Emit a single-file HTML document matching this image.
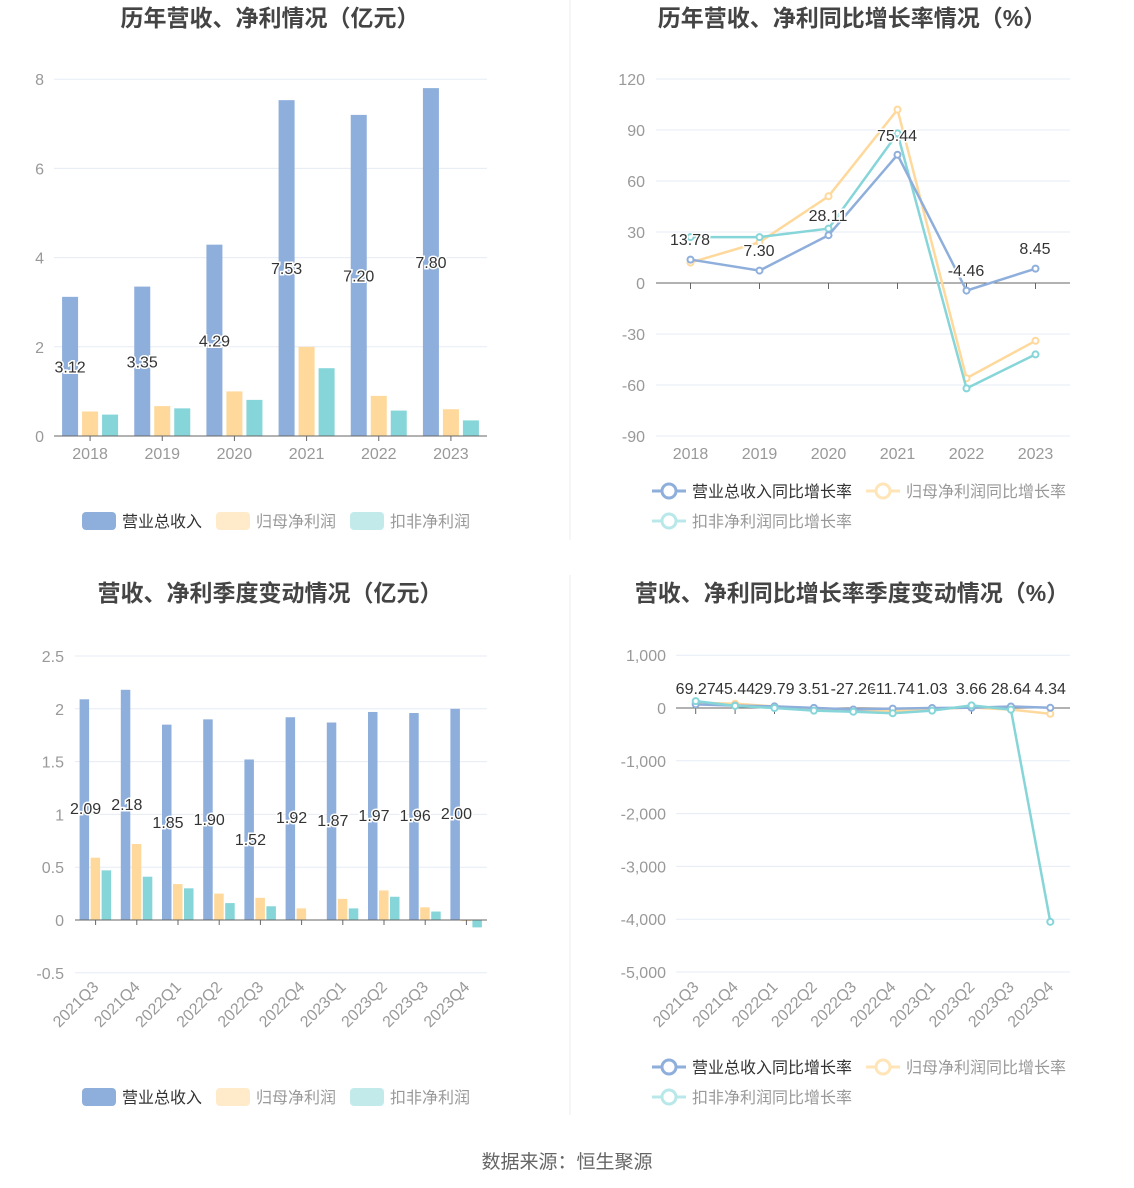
<!DOCTYPE html>
<html><head><meta charset="utf-8"><style>
html,body{margin:0;padding:0;background:#fff;}
svg{display:block;font-family:"Liberation Sans","Noto Sans CJK SC",sans-serif;}
</style></head><body>
<svg id="s" width="1134" height="1188" xmlns="http://www.w3.org/2000/svg"></svg>
<script>
const S=document.getElementById('s');let h='';
const B='#8eaedb',O='#ffd89b',T='#86d5d8';
function t(x,y,s,o){o=o||{};h+=`<text x="${x}" y="${y}" font-size="${o.fs||16}" fill="${o.c||'#999'}" text-anchor="${o.a||'middle'}" ${o.w?'font-weight="bold"':''} ${o.tr?`transform="${o.tr}"`:''} ${o.st?'stroke="#fff" stroke-width="3" paint-order="stroke"':''}>${s}</text>`;}
function l(x1,y1,x2,y2,c,w){h+=`<line x1="${x1}" y1="${y1}" x2="${x2}" y2="${y2}" stroke="${c}" stroke-width="${w||1}"/>`;}
function r(x,y,w,hh,c){if(hh<0){y+=hh;hh=-hh;}h+=`<rect x="${x}" y="${y}" width="${w}" height="${hh}" fill="${c}"/>`;}
t(270,26,'历年营收、净利情况（亿元）',{fs:23,c:'#444',w:1});
t(852,26,'历年营收、净利同比增长率情况（%）',{fs:23,c:'#444',w:1});
t(270,601,'营收、净利季度变动情况（亿元）',{fs:23,c:'#444',w:1});
t(852,601,'营收、净利同比增长率季度变动情况（%）',{fs:23,c:'#444',w:1});
l(570,0,570,540,'#eee');l(570,575,570,1115,'#eee');
t(567,1168,'数据来源：恒生聚源',{fs:19,c:'#666'});
{const x0=54,x1=487,z=436,k=44.6;
for(let v=0;v<=8;v+=2){const y=z-v*k;if(v)l(x0,y,x1,y,'#e6ebf5');t(44,y+6,v,{a:'end'});}
const yrs=['2018','2019','2020','2021','2022','2023'];
const b=[3.12,3.35,4.29,7.53,7.20,7.80],o=[0.55,0.67,1.0,2.0,0.9,0.6],q=[0.48,0.62,0.81,1.52,0.57,0.35];
const cw=(x1-x0)/6;
yrs.forEach((y,i)=>{const c=x0+cw*(i+.5);r(c-28,z-b[i]*k,16,b[i]*k,B);r(c-8,z-o[i]*k,16,o[i]*k,O);r(c+12,z-q[i]*k,16,q[i]*k,T);
l(c,z,c,z+5,'#666');t(c,z+23,y);});
l(x0,z,x1,z,'#666');
yrs.forEach((y,i)=>{const c=x0+cw*(i+.5);t(c-20,z-b[i]*k/2+6,b[i].toFixed(2),{c:'#333',st:1});});
}
function barLeg(y){h+=`<rect x="82" y="${y-9}" width="34" height="18" rx="4" fill="${B}"/><rect x="216" y="${y-9}" width="34" height="18" rx="4" fill="#ffebc9"/><rect x="350" y="${y-9}" width="34" height="18" rx="4" fill="#c3eaeb"/>`;
t(122,y+6,'营业总收入',{a:'start',c:'#333'});t(256,y+6,'归母净利润',{a:'start'});t(390,y+6,'扣非净利润',{a:'start'});}
barLeg(521);barLeg(1097);
function lineLeg(y1,y2){
[[652,y1,B,'营业总收入同比增长率','#333'],[866,y1,'#ffe5b8','归母净利润同比增长率','#999'],[652,y2,'#b8e8e9','扣非净利润同比增长率','#999']].forEach(a=>{
l(a[0],a[1],a[0]+34,a[1],a[2],3);h+=`<circle cx="${a[0]+17}" cy="${a[1]}" r="7" fill="#fff" stroke="${a[2]}" stroke-width="3"/>`;t(a[0]+40,a[1]+6,a[3],{a:'start',c:a[4]});});}
lineLeg(491,521);lineLeg(1067,1097);
function poly(pts,c){h+=`<polyline points="${pts.map(p=>p.join(',')).join(' ')}" fill="none" stroke="${c}" stroke-width="2.5"/>`;pts.forEach(p=>h+=`<circle cx="${p[0]}" cy="${p[1]}" r="3" fill="#fff" stroke="${c}" stroke-width="2"/>`);}
{const x0=656,x1=1070,z=283,k=51/30;
for(let v=-90;v<=120;v+=30){const y=z-v*k;if(v)l(x0,y,x1,y,'#e6ebf5');t(645,y+6,v,{a:'end'});}
const cw=(x1-x0)/6,cx=i=>x0+cw*(i+.5);
['2018','2019','2020','2021','2022','2023'].forEach((y,i)=>{l(cx(i),z,cx(i),z+6,'#666');t(cx(i),459,y);});
l(x0,z,x1,z,'#666');
const b=[13.78,7.30,28.11,75.44,-4.46,8.45],o=[12,24,51,102,-56,-34],q=[27,27,32,88,-62,-42];
poly(o.map((v,i)=>[cx(i),z-v*k]),O);poly(q.map((v,i)=>[cx(i),z-v*k]),T);poly(b.map((v,i)=>[cx(i),z-v*k]),B);
const lp=[[690,245],[759,256],[828,221],[897,141],[966,276],[1035,254]];
b.forEach((v,i)=>t(lp[i][0],lp[i][1],v.toFixed(2),{c:'#333',st:1}));
}
{const x0=75,x1=487,z=920,k=105.6;
for(let v=-0.5;v<=2.5;v+=0.5){const y=z-v*k;if(v)l(x0,y,x1,y,'#e6ebf5');t(64,y+6,v,{a:'end'});}
const qs=['2021Q3','2021Q4','2022Q1','2022Q2','2022Q3','2022Q4','2023Q1','2023Q2','2023Q3','2023Q4'];
const b=[2.09,2.18,1.85,1.90,1.52,1.92,1.87,1.97,1.96,2.00],o=[0.59,0.72,0.34,0.25,0.21,0.11,0.20,0.28,0.12,-0.01],q=[0.47,0.41,0.30,0.16,0.13,0,0.11,0.22,0.08,-0.07];
const cw=(x1-x0)/10;
qs.forEach((s,i)=>{const c=x0+cw*(i+.5);r(c-16,z-b[i]*k,9.5,b[i]*k,B);r(c-5,z-o[i]*k,9.5,o[i]*k,O);r(c+6,z-q[i]*k,9.5,q[i]*k,T);
l(c,z,c,z+5,'#666');t(c+4,988,s,{a:'end',tr:`rotate(-45 ${c+4} 988)`});});
l(x0,z,x1,z,'#666');
const ly=[808,804,822,819,839,817,820,815,815,813];
qs.forEach((s,i)=>{const c=x0+cw*(i+.5);t(c-10,ly[i]+6,b[i].toFixed(2),{c:'#333',st:1});});
}
{const x0=676,x1=1070,z=708,k=52.8/1000;
const labs={1000:'1,000',0:'0','-1000':'-1,000','-2000':'-2,000','-3000':'-3,000','-4000':'-4,000','-5000':'-5,000'};
for(let v=-5000;v<=1000;v+=1000){const y=z-v*k;if(v)l(x0,y,x1,y,'#e6ebf5');t(666,y+6,labs[v],{a:'end'});}
const qs=['2021Q3','2021Q4','2022Q1','2022Q2','2022Q3','2022Q4','2023Q1','2023Q2','2023Q3','2023Q4'];
const cw=(x1-x0)/10,cx=i=>x0+cw*(i+.5);
qs.forEach((s,i)=>{l(cx(i),z,cx(i),z+6,'#666');t(cx(i)+4,988,s,{a:'end',tr:`rotate(-45 ${cx(i)+4} 988)`});});
l(x0,z,x1,z,'#666');
const b=[69.27,45.44,29.79,3.51,-27.26,-11.74,1.03,3.66,28.64,4.34],o=[100,80,30,-20,-40,-60,-20,10,-30,-110],q=[130,40,0,-50,-70,-100,-50,50,-30,-4050];
poly(o.map((v,i)=>[cx(i),z-v*k]),O);poly(b.map((v,i)=>[cx(i),z-v*k]),B);poly(q.map((v,i)=>[cx(i),z-v*k]),T);
b.forEach((v,i)=>t(cx(i),694,v.toFixed(2),{c:'#333',st:1}));
}
S.innerHTML=h;
</script>
</body></html>
